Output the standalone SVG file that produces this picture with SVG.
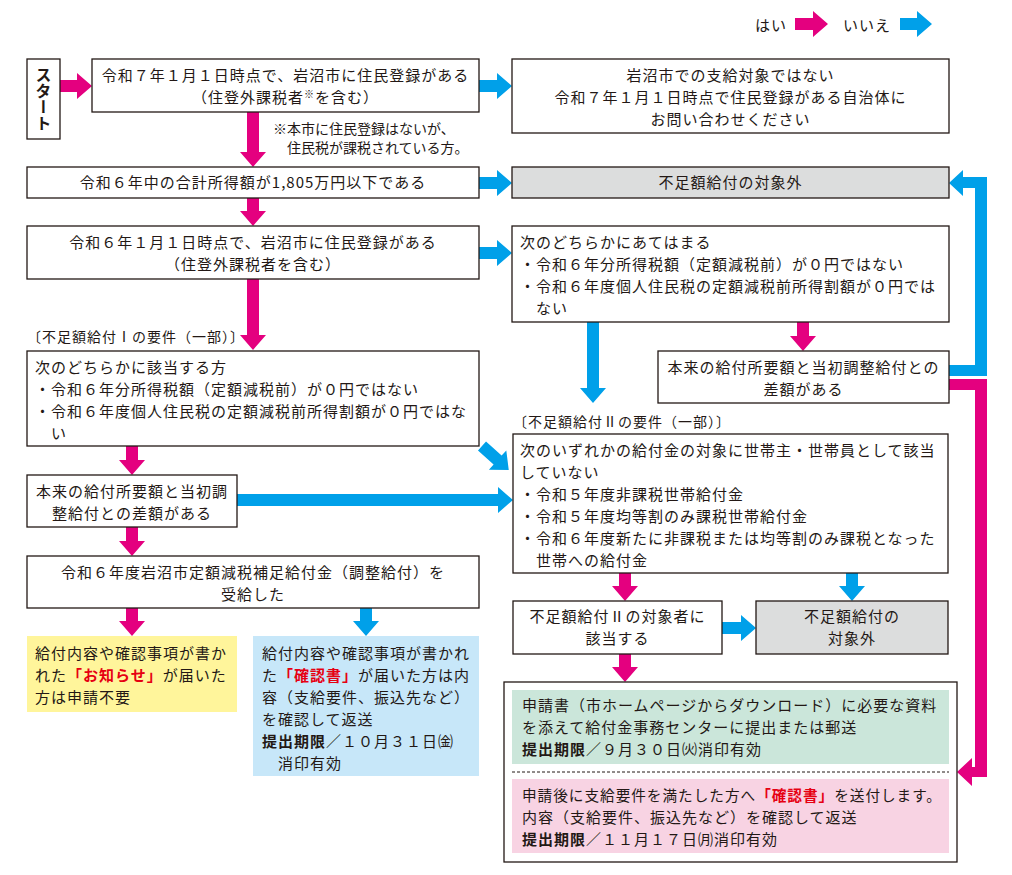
<svg xmlns="http://www.w3.org/2000/svg" width="1012" height="875" viewBox="0 0 1012 875">
<style>
.box{fill:#fff;stroke:#231815;stroke-width:1.3}
.gray{fill:#dcdddd;stroke:#231815;stroke-width:1.3}
.t{font-family:"Noto Sans CJK JP","Noto Sans CJK SC",sans-serif;font-size:15px;letter-spacing:1px;fill:#231815}
.s{font-size:14px;letter-spacing:0}
.c{text-anchor:middle}
.b{font-weight:bold}
.red{fill:#e60012;font-weight:bold}
.pk{fill:#e4007f}
.bl{fill:#00a0e9}
.st{font-family:"Noto Sans CJK JP","Noto Sans CJK SC",sans-serif;font-size:16px;font-weight:bold;fill:#231815;text-anchor:middle;writing-mode:vertical-rl}
</style>
<rect width="1012" height="875" fill="#fff"/>

<g id="legend">
<text class="t" x="755" y="31">はい</text>
<polygon class="pk" points="795,18 813,18 813,11 828,24 813,37 813,30 795,30"/>
<text class="t" x="843" y="31">いいえ</text>
<polygon class="bl" points="900,18 917,18 917,11 932,24 917,37 917,30 900,30"/>
</g>

<g id="connectors">
<polygon class="pk" points="60,80 77,80 77,73 92,86 77,99 77,92 60,92"/>
<polygon class="bl" points="479,80 497,80 497,73 512,86 497,99 497,92 479,92"/>
<polygon class="pk" points="247,112 259,112 259,152 266,152 253,167 240,152 247,152"/>
<polygon class="bl" points="479,177 497,177 497,170 512,183 497,196 497,189 479,189"/>
<polygon class="pk" points="247,198 259,198 259,211 266,211 253,226 240,211 247,211"/>
<polygon class="bl" points="479,247 497,247 497,240 512,253 497,266 497,259 479,259"/>
<polygon class="pk" points="247,279 259,279 259,335 266,335 253,350 240,335 247,335"/>
<polygon class="pk" points="797,322 809,322 809,336 816,336 803,351 790,336 797,336"/>
<polygon class="bl" points="587,322 599,322 599,388 606,388 593,403 580,388 587,388"/>
<polygon class="bl" points="949,365 975,365 975,188 963,188 963,196 949,183 963,170 963,177 987,177 987,376 949,376"/>
<polygon class="pk" points="949,379 987,379 987,777 972,777 972,786 957,772 972,758 972,767 975,767 975,390 949,390"/>
<polygon class="bl" points="0,-6 21,-6 21,-13 36,0 21,13 21,6 0,6" transform="translate(482,446) rotate(42)"/>
<polygon class="pk" points="126,446 138,446 138,460 145,460 132,475 119,460 126,460"/>
<polygon class="bl" points="237,494 498,494 498,487 513,500 498,513 498,506 237,506"/>
<polygon class="pk" points="126,527 138,527 138,541 145,541 132,556 119,541 126,541"/>
<polygon class="pk" points="126,608 138,608 138,621 145,621 132,636 119,621 126,621"/>
<polygon class="bl" points="360,608 372,608 372,621 379,621 366,636 353,621 360,621"/>
<polygon class="pk" points="619,573 631,573 631,586 638,586 625,601 612,586 619,586"/>
<polygon class="bl" points="846,573 858,573 858,586 865,586 852,601 839,586 846,586"/>
<polygon class="bl" points="722,622 741,622 741,615 756,628 741,641 741,634 722,634"/>
<polygon class="pk" points="619,654 631,654 631,667 638,667 625,682 612,667 619,667"/>
</g>

<g id="start">
<rect class="box" x="27" y="59" width="33" height="80"/>
<text class="st" x="43.5" y="99">スタート</text>
</g>

<g id="n1">
<rect class="box" x="92" y="59" width="387" height="53"/>
<text class="t c" x="285.5" y="81">令和７年１月１日時点で、岩沼市に住民登録がある</text>
<text class="t c" x="285.5" y="103">（住登外課税者<tspan font-size="10" dy="-5">※</tspan><tspan dy="5">を含む）</tspan></text>
</g>

<g id="note">
<text class="t s" x="273" y="134">※本市に住民登録はないが、</text>
<text class="t s" x="287" y="153">住民税が課税されている方。</text>
</g>

<g id="n2">
<rect class="box" x="512" y="59" width="437" height="74"/>
<text class="t c" x="730.5" y="81">岩沼市での支給対象ではない</text>
<text class="t c" x="730.5" y="103">令和７年１月１日時点で住民登録がある自治体に</text>
<text class="t c" x="730.5" y="125">お問い合わせください</text>
</g>

<g id="n3">
<rect class="box" x="27" y="167" width="452" height="31"/>
<text class="t c" x="253" y="188">令和６年中の合計所得額が1,805万円以下である</text>
</g>

<g id="out1">
<rect class="gray" x="512" y="167" width="437" height="31"/>
<text class="t c" x="730.5" y="188">不足額給付の対象外</text>
</g>

<g id="n4">
<rect class="box" x="27" y="226" width="452" height="53"/>
<text class="t c" x="253" y="248">令和６年１月１日時点で、岩沼市に住民登録がある</text>
<text class="t c" x="253" y="270">（住登外課税者を含む）</text>
</g>

<g id="n6">
<rect class="box" x="512" y="226" width="437" height="96"/>
<text class="t" x="520" y="248">次のどちらかにあてはまる</text>
<text class="t" x="520" y="270">・令和６年分所得税額（定額減税前）が０円ではない</text>
<text class="t" x="520" y="292">・令和６年度個人住民税の定額減税前所得割額が０円では</text>
<text class="t" x="536" y="314">ない</text>
</g>

<g id="n7">
<rect class="box" x="658" y="351" width="291" height="52"/>
<text class="t c" x="803.5" y="373">本来の給付所要額と当初調整給付との</text>
<text class="t c" x="803.5" y="395">差額がある</text>
</g>

<g id="label1">
<text class="t" x="27" y="342" style="font-size:14px">〔不足額給付Ⅰの要件（一部）〕</text>
</g>

<g id="n5">
<rect class="box" x="27" y="351" width="452" height="95"/>
<text class="t" x="35" y="373">次のどちらかに該当する方</text>
<text class="t" x="35" y="395">・令和６年分所得税額（定額減税前）が０円ではない</text>
<text class="t" x="35" y="417">・令和６年度個人住民税の定額減税前所得割額が０円ではな</text>
<text class="t" x="51" y="439">い</text>
</g>

<g id="label2">
<text class="t" x="513" y="427" style="font-size:14px">〔不足額給付Ⅱの要件（一部）〕</text>
</g>

<g id="n10">
<rect class="box" x="513" y="434" width="435" height="139"/>
<text class="t" x="520" y="456">次のいずれかの給付金の対象に世帯主・世帯員として該当</text>
<text class="t" x="520" y="478">していない</text>
<text class="t" x="520" y="500">・令和５年度非課税世帯給付金</text>
<text class="t" x="520" y="522">・令和５年度均等割のみ課税世帯給付金</text>
<text class="t" x="520" y="544">・令和６年度新たに非課税または均等割のみ課税となった</text>
<text class="t" x="536" y="566">世帯への給付金</text>
</g>

<g id="n8">
<rect class="box" x="27" y="475" width="210" height="52"/>
<text class="t c" x="132" y="497">本来の給付所要額と当初調</text>
<text class="t c" x="132" y="519">整給付との差額がある</text>
</g>

<g id="n9">
<rect class="box" x="27" y="556" width="452" height="52"/>
<text class="t c" x="253" y="578">令和６年度岩沼市定額減税補足給付金（調整給付）を</text>
<text class="t c" x="253" y="600">受給した</text>
</g>

<g id="yellow">
<rect x="27" y="636" width="210" height="76" fill="#fff59b"/>
<text class="t" x="35" y="659">給付内容や確認事項が書か</text>
<text class="t" x="35" y="681">れた<tspan class="red">「お知らせ」</tspan>が届いた</text>
<text class="t" x="35" y="703">方は申請不要</text>
</g>

<g id="lightblue">
<rect x="253" y="636" width="226" height="140" fill="#c7e7f9"/>
<text class="t" x="262" y="659">給付内容や確認事項が書かれ</text>
<text class="t" x="262" y="681">た<tspan class="red">「確認書」</tspan>が届いた方は内</text>
<text class="t" x="262" y="703">容（支給要件、振込先など）</text>
<text class="t" x="262" y="725">を確認して返送</text>
<text class="t" x="262" y="747"><tspan class="b">提出期限</tspan>／１０月３１日㈮</text>
<text class="t" x="278" y="769">消印有効</text>
</g>

<g id="n11">
<rect class="box" x="513" y="601" width="209" height="53"/>
<text class="t c" x="617.5" y="622">不足額給付Ⅱの対象者に</text>
<text class="t c" x="617.5" y="644">該当する</text>
</g>

<g id="out2">
<rect class="gray" x="756" y="601" width="192" height="53"/>
<text class="t c" x="852" y="622">不足額給付の</text>
<text class="t c" x="852" y="644">対象外</text>
</g>

<g id="apply">
<rect class="box" x="504" y="682" width="453" height="180"/>
<rect x="512" y="690" width="437" height="74" fill="#cbe6da"/>
<text class="t" x="522" y="711">申請書（市ホームページからダウンロード）に必要な資料</text>
<text class="t" x="522" y="733">を添えて給付金事務センターに提出または郵送</text>
<text class="t" x="522" y="755"><tspan class="b">提出期限</tspan>／９月３０日㈫消印有効</text>
<line x1="512" y1="772" x2="949" y2="772" stroke="#231815" stroke-width="1" stroke-dasharray="3,2"/>
<rect x="512" y="779" width="437" height="74" fill="#f8d3e3"/>
<text class="t" x="522" y="801" textLength="420" lengthAdjust="spacingAndGlyphs">申請後に支給要件を満たした方へ<tspan class="red">「確認書」</tspan>を送付します。</text>
<text class="t" x="522" y="823">内容（支給要件、振込先など）を確認して返送</text>
<text class="t" x="522" y="845"><tspan class="b">提出期限</tspan>／１１月１７日㈪消印有効</text>
</g>
</svg>
